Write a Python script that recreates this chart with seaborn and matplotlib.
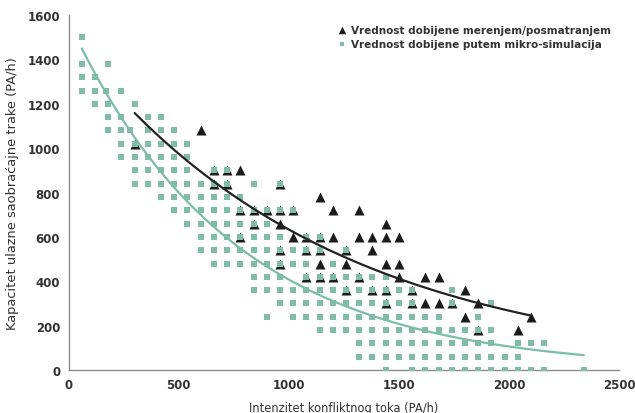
import numpy as np
import pandas as pd
import matplotlib
matplotlib.use("Agg")
import matplotlib.pyplot as plt
import seaborn as sns

# ---- data ----
# measured / observed values (triangles): capacity level -> conflicting flows
meas_levels = [1080, 1020, 900, 840, 780, 720, 660, 600, 540, 480, 420, 360, 300, 240, 180]
meas_flows = [
    [600],
    [300],
    [660, 720, 780],
    [660, 720, 960],
    [1140],
    [780, 840, 900, 960, 1020, 1200, 1320],
    [840, 960, 1440],
    [780, 1020, 1080, 1140, 1200, 1320, 1380, 1440, 1500],
    [960, 1080, 1140, 1260, 1380],
    [960, 1140, 1260, 1440, 1500],
    [1080, 1140, 1200, 1320, 1500, 1620, 1680],
    [1260, 1380, 1440, 1560, 1800],
    [1440, 1560, 1620, 1680, 1740, 1860],
    [1800, 2100],
    [1860, 2040],
]

# micro-simulation values (squares): capacity level -> conflicting flows
sim_levels = [1500, 1380, 1320, 1260, 1200, 1140, 1080, 1020, 960, 900, 840, 780,
              720, 660, 600, 540, 480, 420, 360, 300, 240, 180, 120, 60, 0]
sim_flows = [
    [60],
    [60, 180],
    [60, 120],
    [60, 120, 170, 240],
    [120, 180, 300],
    [180, 240, 360, 420],
    [180, 240, 280, 360, 420, 480],
    [240, 300, 360, 420, 480, 540],
    [240, 300, 360, 420, 480, 540],
    [300, 360, 420, 480, 540, 660, 720],
    [300, 360, 420, 480, 540, 600, 660, 720, 840, 960],
    [420, 480, 540, 600, 660, 720, 780],
    [480, 540, 600, 660, 720, 780, 840, 900, 960, 1020],
    [540, 600, 660, 720, 780, 840, 900],
    [600, 660, 720, 780, 840, 900, 960, 1080, 1140],
    [600, 660, 720, 780, 840, 900, 960, 1020, 1080, 1140, 1260],
    [660, 720, 780, 840, 900, 960, 1020, 1080, 1200],
    [840, 900, 960, 1080, 1140, 1200, 1260, 1320, 1380, 1440],
    [840, 900, 960, 1020, 1080, 1140, 1200, 1260, 1320, 1380, 1440, 1500, 1560, 1740],
    [960, 1020, 1080, 1140, 1200, 1260, 1320, 1380, 1440, 1500, 1560, 1740, 1920],
    [900, 1020, 1080, 1140, 1200, 1260, 1320, 1380, 1440, 1500, 1560, 1620, 1680, 1860],
    [1140, 1200, 1260, 1320, 1380, 1440, 1500, 1560, 1620, 1680, 1740, 1800, 1860, 1920],
    [1320, 1380, 1440, 1500, 1560, 1620, 1680, 1740, 1800, 1860, 1920, 2040, 2100, 2160],
    [1320, 1380, 1440, 1500, 1560, 1620, 1680, 1740, 1800, 1860, 1920, 1980, 2040],
    [1440, 1560, 1620, 1680, 1740, 1800, 1860, 1920, 1980, 2040, 2100, 2160, 2340],
]

# exponential trendline coefficients (cap = a * exp(-b * flow))
trend_meas_a, trend_meas_b = 1501.0, 0.000863
trend_sim_a, trend_sim_b = 1572.0, 0.00135

x_ticks = [0, 500, 1000, 1500, 2000, 2500]
y_ticks = [0, 200, 400, 600, 800, 1000, 1200, 1400, 1600]

label_meas = "Vrednost dobijene merenjem/posmatranjem"
label_sim = "Vrednost dobijene putem mikro-simulacija"
x_label = "Intenzitet konfliktnog toka (PA/h)"
y_label = "Kapacitet ulazne saobraćajne trake (PA/h)"

# ---- build tables ----
meas = pd.DataFrame([(f, c) for c, fl in zip(meas_levels, meas_flows) for f in fl],
                    columns=["flow", "cap"])
sim = pd.DataFrame([(f, c) for c, fl in zip(sim_levels, sim_flows) for f in fl],
                   columns=["flow", "cap"])


def trend(df, a, b):
    xs = np.linspace(df["flow"].min(), df["flow"].max(), 200)
    return pd.DataFrame({"flow": xs, "cap": a * np.exp(-b * xs)})


meas_fit = trend(meas, trend_meas_a, trend_meas_b)
sim_fit = trend(sim, trend_sim_a, trend_sim_b)

# ---- plot ----
sns.set_theme(style="white")
plt.rcParams["font.family"] = ["DejaVu Sans"]

teal = "#80bca8"
teal_line = "#7bbda5"
dark = "#1c1c1c"
text_col = "#333333"

fig = plt.figure(figsize=(6.35, 4.14), dpi=100)
ax = fig.add_axes([0.108, 0.104, 0.867, 0.857])

sns.scatterplot(data=meas, x="flow", y="cap", marker="^", s=52, color=dark,
                linewidth=0, ax=ax, zorder=2, label=label_meas)
sns.scatterplot(data=sim, x="flow", y="cap", marker="s", s=13, color=teal,
                linewidth=0, ax=ax, zorder=3, label=label_sim)
sns.lineplot(data=sim_fit, x="flow", y="cap", color=teal_line, linewidth=1.6,
             ax=ax, zorder=4, legend=False)
sns.lineplot(data=meas_fit, x="flow", y="cap", color="#222222", linewidth=1.6,
             ax=ax, zorder=5, legend=False)

ax.set_xlim(0, 2500)
ax.set_ylim(0, 1600)
ax.set_xticks(x_ticks)
ax.set_yticks(y_ticks)
ax.set_xticklabels([str(t) for t in x_ticks])
ax.set_yticklabels([str(t) for t in y_ticks])

for side in ["top", "right"]:
    ax.spines[side].set_visible(False)
for side in ["left", "bottom"]:
    ax.spines[side].set_color("#8a8a8a")
    ax.spines[side].set_linewidth(1.0)
ax.tick_params(axis="both", which="both", direction="out", length=4, width=1,
               color="#8a8a8a", labelsize=8.5, labelcolor=text_col, pad=2)
for lab in ax.get_xticklabels() + ax.get_yticklabels():
    lab.set_fontweight("bold")

ax.set_xlabel(x_label, fontsize=8.3, color=text_col, labelpad=7)
ax.set_ylabel(y_label, fontsize=9.4, color=text_col, labelpad=6)

leg = ax.legend(loc="upper left", bbox_to_anchor=(337 / 635, 1 - 26 / 414),
                bbox_transform=fig.transFigure, frameon=False,
                handletextpad=0.3, borderaxespad=0.0, borderpad=0.0,
                labelspacing=0.35, prop={"size": 7.5, "weight": "bold"},
                markerscale=0.75, handlelength=1.0)
for t in leg.get_texts():
    t.set_color(text_col)

fig.savefig("out.png", dpi=100)
